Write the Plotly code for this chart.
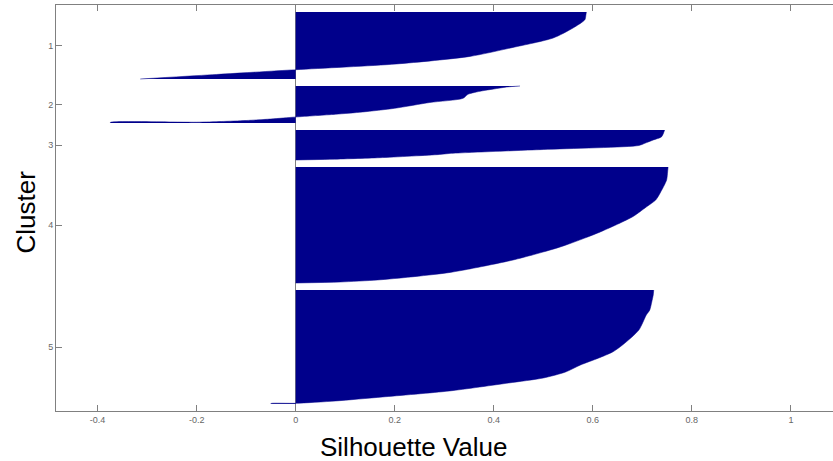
import plotly.graph_objects as go

# ---- data ----
cluster_names = ["1", "2", "3", "4", "5"]
cluster_sizes = [67, 37, 30, 116, 114]   # members per cluster
gap = 7                                   # empty rows between clusters

# silhouette profile per cluster: rank inside cluster (sorted descending) and value
c1_rank = [0, 3, 7.7, 16, 26, 35.4, 44.4, 52, 57.7, 62.7, 67]
c1_value = [0.587, 0.586, 0.584, 0.560, 0.520, 0.439, 0.352, 0.203, 0.0, -0.168, -0.314]

c2_rank = [0, 1, 3, 5, 8.3, 12.3, 16.5, 22.3, 26, 28.3, 31, 33, 34.5, 35.5, 36.2, 36.3, 37]
c2_value = [0.453, 0.426, 0.400, 0.375, 0.348, 0.338, 0.271, 0.200, 0.135, 0.080, 0.0,
            -0.05, -0.10, -0.15, -0.20, -0.374, -0.374]

c3_rank = [0, 6.7, 10, 13.3, 15.5, 19.5, 23.5, 24.5, 27.7, 29.3, 30]
c3_value = [0.745, 0.739, 0.722, 0.705, 0.693, 0.500, 0.310, 0.290, 0.170, 0.069, 0.0]

c4_rank = [0, 5, 13, 26, 33, 40, 49, 53, 66, 80, 93, 103, 106, 110, 113, 115, 116]
c4_value = [0.752, 0.751, 0.749, 0.736, 0.727, 0.708, 0.683, 0.668, 0.610, 0.534, 0.439,
            0.340, 0.304, 0.232, 0.165, 0.090, 0.0]

c5_rank = [0, 5, 12, 20, 25, 40, 55, 62, 68, 75, 82, 88, 93, 101, 107, 111, 113.3, 113.5, 114]
c5_value = [0.723, 0.722, 0.719, 0.715, 0.708, 0.693, 0.660, 0.640, 0.612, 0.575, 0.545,
            0.500, 0.430, 0.310, 0.175, 0.080, 0.0, -0.05, -0.05]

ranks = [c1_rank, c2_rank, c3_rank, c4_rank, c5_rank]
values = [c1_value, c2_value, c3_value, c4_value, c5_value]

x_tick_vals = [-0.4, -0.2, 0, 0.2, 0.4, 0.6, 0.8, 1]
x_tick_text = ["-0.4", "-0.2", "0", "0.2", "0.4", "0.6", "0.8", "1"]

# ---- layout of rows ----
starts = []
pos = gap
for s in cluster_sizes:
    starts.append(pos)
    pos += s + gap
total_rows = pos
centers = [st + s / 2 for st, s in zip(starts, cluster_sizes)]

fill_col = "rgb(0,0,139)"
axis_col = "#808080"

fig = go.Figure()
for st, rk, val in zip(starts, ranks, values):
    fig.add_trace(go.Scatter(
        x=val, y=[st + r for r in rk],
        mode="lines", fill="tozerox",
        fillcolor=fill_col,
        line=dict(color=fill_col, width=0.5, shape="spline", smoothing=0.7),
        hoverinfo="skip", showlegend=False))

font_family = "Liberation Sans, Arial, sans-serif"

fig.update_layout(
    width=833, height=461,
    margin=dict(l=56, r=0, t=5, b=50),
    paper_bgcolor="white", plot_bgcolor="white",
    showlegend=False,
    font=dict(family=font_family, size=9, color="#555555"),
    xaxis=dict(
        range=[-0.484, 1.085],
        tickvals=x_tick_vals, ticktext=x_tick_text,
        ticks="inside", ticklen=6, tickcolor=axis_col, tickwidth=1,
        showline=True, linecolor=axis_col, linewidth=1, mirror="ticks",
        showgrid=False,
        zeroline=True, zerolinecolor=axis_col, zerolinewidth=1,
        tickfont=dict(size=9, color="#666666"),
    ),
    yaxis=dict(
        range=[total_rows, 0],
        tickvals=centers, ticktext=cluster_names,
        ticks="inside", ticklen=6, tickcolor=axis_col, tickwidth=1,
        showline=True, linecolor=axis_col, linewidth=1, mirror=False,
        showgrid=False, zeroline=False,
        tickfont=dict(size=9, color="#666666"),
    ),
    annotations=[
        dict(text="Silhouette Value", xref="paper", yref="paper",
             x=(413 - 56) / 777, y=(411 - 447) / 406,
             xanchor="center", yanchor="middle", showarrow=False,
             font=dict(family=font_family, size=26, color="black")),
        dict(text="Cluster", xref="paper", yref="paper",
             x=(25 - 56) / 777, y=(411 - 212.5) / 406,
             xanchor="center", yanchor="middle", showarrow=False, textangle=-90,
             font=dict(family=font_family, size=26, color="black")),
    ],
)

fig.write_html("out.html")
